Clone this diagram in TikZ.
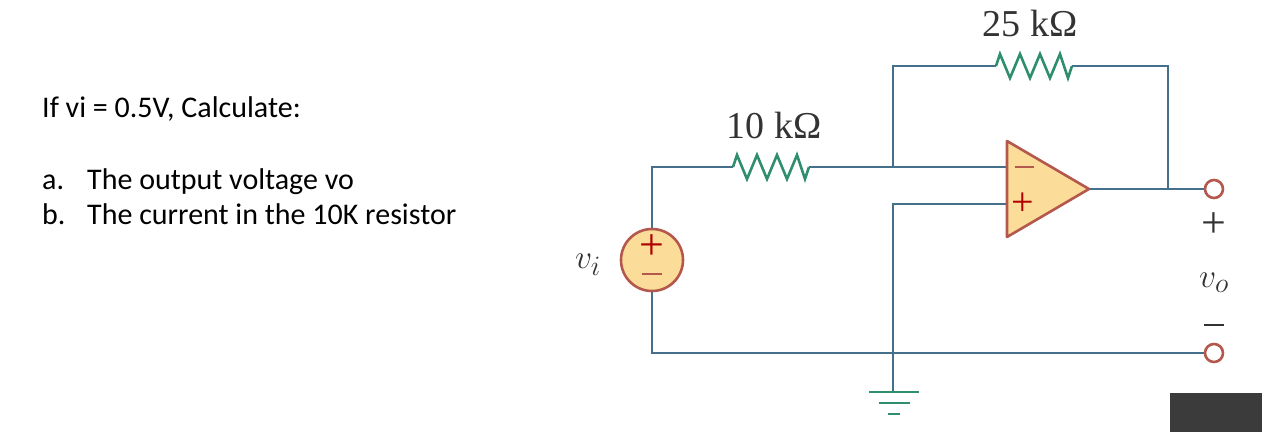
\documentclass[tikz,border=0pt]{standalone}
\usepackage{fontspec}
\setmainfont{Liberation Serif}
\newfontfamily\notefont{Carlito}
\usetikzlibrary{positioning}
\definecolor{wireblue}{HTML}{44708C}
\definecolor{resgreen}{HTML}{2F8F6C}
\definecolor{ampfill}{HTML}{FBDC98}
\definecolor{ampedge}{HTML}{B4574C}
\definecolor{labelgrey}{HTML}{333333}
\tikzset{
  wire/.style   = {draw=wireblue, line width=2.6pt},
  resline/.style = {draw=resgreen, line width=2.6pt, line join=miter},
  note/.style   = {anchor=base west, inner sep=0pt, font=\notefont\fontsize{30}{34}\selectfont, text=black},
  value/.style  = {inner sep=0pt, text=labelgrey, font=\fontsize{38}{42}\selectfont},
  sign/.style   = {inner sep=0pt, text=labelgrey, font=\fontsize{44}{46}\selectfont},
  volt/.style   = {inner sep=0pt, text=labelgrey, font=\Huge, scale=1.35},
  terminal/.style = {circle, draw=ampedge, line width=2.6pt, fill=white, minimum size=18pt, inner sep=0pt},
  source/.style = {circle, draw=ampedge, line width=2.6pt, fill=ampfill, minimum size=62pt, inner sep=0pt},
  gbar/.style   = {draw=resgreen, line width=2.6pt},
  zigres/.pic   = {\draw[resline] (0,0) -- (4,-12) -- (14,12) -- (24,-12) -- (34,12) -- (44,-12) -- (54,12) -- (64,-12) -- (72,12) -- (76,0);}
}

\begin{document}
\begin{tikzpicture}[x=1pt,y=-1pt]
\useasboundingbox (0,0) rectangle (1262,432);
\node[note] (line1) at (42,117) {If vi = 0.5V, Calculate:};
\node[note] (a) at (42,189) {a.};
\node[note] (atext) at (87,189) {The output voltage vo};
\node[note] (b) at (42,224) {b.};
\node[note] (btext) at (87,224) {The current in the 10K resistor};

\coordinate (rf1) at (996,66);
\coordinate (rf2) at (1072,66);
\coordinate (ri1) at (733,167);
\coordinate (ri2) at (809,167);
\coordinate (minus) at (1007,167);
\coordinate (plus) at (1007,204);
\coordinate (tip) at (1089,189);
\coordinate (gnd) at (893,392);
\node[source] (vs) at (652,260) {};
\node[terminal] (vop) at (1214,189) {};
\node[terminal] (von) at (1214,353) {};

\draw[wire] (vs.north) |- (ri1);
\draw[wire] (ri2) -- (minus);
\draw[wire] (893,167) |- (rf1);
\draw[wire] (rf2) -| (1168,189);
\draw[wire] (plus) -| (gnd);
\draw[wire] (tip) -- (vop);
\draw[wire] (vs.south) |- (von);
\pic at (ri1) {zigres};
\pic at (rf1) {zigres};

\draw[draw=ampedge, line width=2.6pt, fill=ampfill, line join=round] (1007,141) -- (tip) -- (1007,237) -- cycle;
\node[inner sep=0pt, text=ampedge] (ampm) at (1024,167) {\rule{19pt}{2.6pt}};
\node[inner sep=0pt, text=red!70!black, font=\fontsize{40}{42}\selectfont] (ampp) at (1023,204) {+};
\node[inner sep=0pt, text=red!70!black, font=\fontsize{44}{46}\selectfont] (vsp) at (652,247) {+};
\node[inner sep=0pt, text=ampedge] (vsm) at (652,274) {\rule{20pt}{2.6pt}};

\draw[gbar] (869,392) -- (919,392);
\draw[gbar] (879,403) -- (910,403);
\draw[gbar] (888,414) -- (900,414);

\node[value] (r1) at (774,125) {10 kΩ};
\node[value] (r2) at (1030,23) {25 kΩ};
\node[volt] (vi) at (588,265) {$v_i$};
\node[sign] (op) at (1214,225) {+};
\node[volt] (vo) at (1214,283) {$v_o$};
\node[inner sep=0pt, text=labelgrey] (om) at (1214,325) {\rule{20pt}{2.6pt}};

\node[fill=black!77, minimum width=92pt, minimum height=39pt, inner sep=0pt, anchor=north west] (corner) at (1170,393) {};
\end{tikzpicture}
\end{document}
